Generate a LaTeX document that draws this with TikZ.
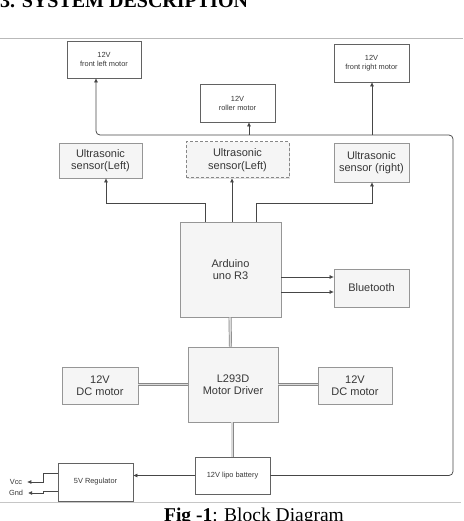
\documentclass[tikz,border=0pt]{standalone}
\usepackage{fontspec}
\setmainfont{Liberation Serif}
\setsansfont{Liberation Sans}
\usetikzlibrary{arrows.meta, positioning, shadows}
\definecolor{boxfill}{RGB}{245,245,245}
\definecolor{boxline}{RGB}{150,150,150}
\definecolor{wire}{RGB}{70,70,70}
\definecolor{txt}{RGB}{55,55,55}

\begin{document}
\begin{tikzpicture}[x=1pt, y=-1pt,
    graybox/.style={draw=boxline, fill=boxfill, line width=0.8pt,
      drop shadow={shadow xshift=1pt, shadow yshift=-1pt, opacity=0.25},
      align=center, text=txt, inner sep=0pt,
      font=\sffamily\fontsize{11}{12.5}\selectfont},
    dashbox/.style={graybox, dashed, dash pattern=on 3pt off 2pt, line width=1pt, draw=boxline!90!black},
    whitebox/.style={draw=wire!85, fill=white, line width=0.8pt, align=center,
      text=txt, inner sep=0pt, font=\sffamily\fontsize{7.4}{9}\selectfont},
    link/.style={draw=wire, line width=0.75pt},
    arr/.style={link, -{Triangle[length=4pt, width=3.5pt]}},
    bus/.style={draw=boxline!90!black, double=boxline!35, double distance=1.6pt, line width=0.7pt}]

    \useasboundingbox (0,0) rectangle (463,521);

    % heading and rules of the page
    \node[anchor=base west, inner sep=0pt, font=\bfseries\fontsize{20}{24}\selectfont] (head) at (0,8) {3. SYSTEM DESCRIPTION};
    \draw[gray!55, line width=1pt] (0,39) -- (463,39);
    \draw[gray!45, line width=0.8pt] (0,502) -- (461,502);
    \node[anchor=base, inner sep=0pt, font=\fontsize{19.5}{23}\selectfont] (cap) at (254,521.5) {\textbf{Fig -1}: Block Diagram};

    % motors at the top
    \node[whitebox, minimum width=74, minimum height=37] (flm) at (104,59.5) {12V\\front left motor};
    \node[whitebox, minimum width=75, minimum height=38] (frm) at (371.5,63) {12V\\front right motor};
    \node[whitebox, minimum width=75, minimum height=38] (rol) at (237.5,103) {12V\\roller motor};

    % ultrasonic sensors
    \node[graybox, minimum width=83, minimum height=35] (usl) at (100.5,160.5) {Ultrasonic\\sensor(Left)};
    \node[dashbox, minimum width=103, minimum height=36] (usm) at (237.5,160) {Ultrasonic\\sensor(Left)};
    \node[graybox, minimum width=75, minimum height=39] (usr) at (371.5,162.5) {Ultrasonic\\sensor (right)};

    % controller and bluetooth
    \node[graybox, minimum width=101, minimum height=95] (ard) at (230.5,269.5) {Arduino\\uno R3};
    \node[graybox, minimum width=75, minimum height=38] (bt) at (371.5,288) {Bluetooth};

    % driver and DC motors
    \node[graybox, minimum width=90, minimum height=75] (drv) at (233,384.5) {L293D\\Motor Driver};
    \node[graybox, minimum width=76, minimum height=37] (dcl) at (100,385.5) {12V\\DC motor};
    \node[graybox, minimum width=74, minimum height=37] (dcr) at (355,385.5) {12V\\DC motor};

    % power
    \node[whitebox, minimum width=75, minimum height=37] (bat) at (232.5,475.5) {12V lipo battery};
    \node[whitebox, minimum width=75, minimum height=38] (reg) at (95.5,482) {5V Regulator};
    \node[text=txt, inner sep=0pt, font=\sffamily\fontsize{7.4}{9}\selectfont] (vcc) at (16,482) {Vcc};
    \node[text=txt, inner sep=0pt, font=\sffamily\fontsize{7.4}{9}\selectfont] (gnd) at (16,493) {Gnd};

    % corner points of the wiring
    \coordinate (pwr) at (453,135);
    \coordinate (sl) at (106,203);
    \coordinate (sr) at (372,203);
    \coordinate (vk) at (43,482);
    \coordinate (gk) at (43,493);

    % battery feeds the three top motors
    \draw[arr, rounded corners=4pt] (bat.east) -| (pwr) -- (96,135) -- ([xshift=-8pt]flm.south);
    \draw[arr] (249,135) -- ([xshift=11.5pt]rol.south);
    \draw[arr] (372,135) -- ([xshift=0.5pt]frm.south);

    % arduino to sensors
    \draw[arr] ([xshift=-25.5pt]ard.north) |- (sl) -- (sl |- usl.south);
    \draw[arr] ([xshift=1.5pt]ard.north) -- ([xshift=-5.5pt]usm.south);
    \draw[arr] ([xshift=25.5pt]ard.north) |- (sr) -- (sr |- usr.south);

    % arduino to bluetooth
    \draw[arr] ([yshift=-7.5pt]ard.east) -- ([yshift=-7.5pt]ard.east -| bt.west);
    \draw[arr] ([yshift=-22.5pt]ard.east) -- ([yshift=-22.5pt]ard.east -| bt.west);

    % buses
    \draw[bus] ([xshift=-0.5pt]ard.south) -- ([xshift=-2.5pt]drv.north);
    \draw[bus] (drv.west) -- (drv.west -| dcl.east);
    \draw[bus] (drv.east) -- (drv.east -| dcr.west);
    \draw[bus] ([xshift=-1pt]drv.south) -- ([xshift=-0.5pt]bat.north);

    % battery to regulator, regulator outputs
    \draw[arr] (bat.west) -- (bat.west -| reg.east);
    \draw[arr, shorten >=5pt] ([yshift=9pt]reg.west) -| (vk) -- (vcc.east);
    \draw[arr, shorten >=5pt] ([yshift=-9pt]reg.west) -| (gk) -- (gnd.east);

\end{tikzpicture}
\end{document}
